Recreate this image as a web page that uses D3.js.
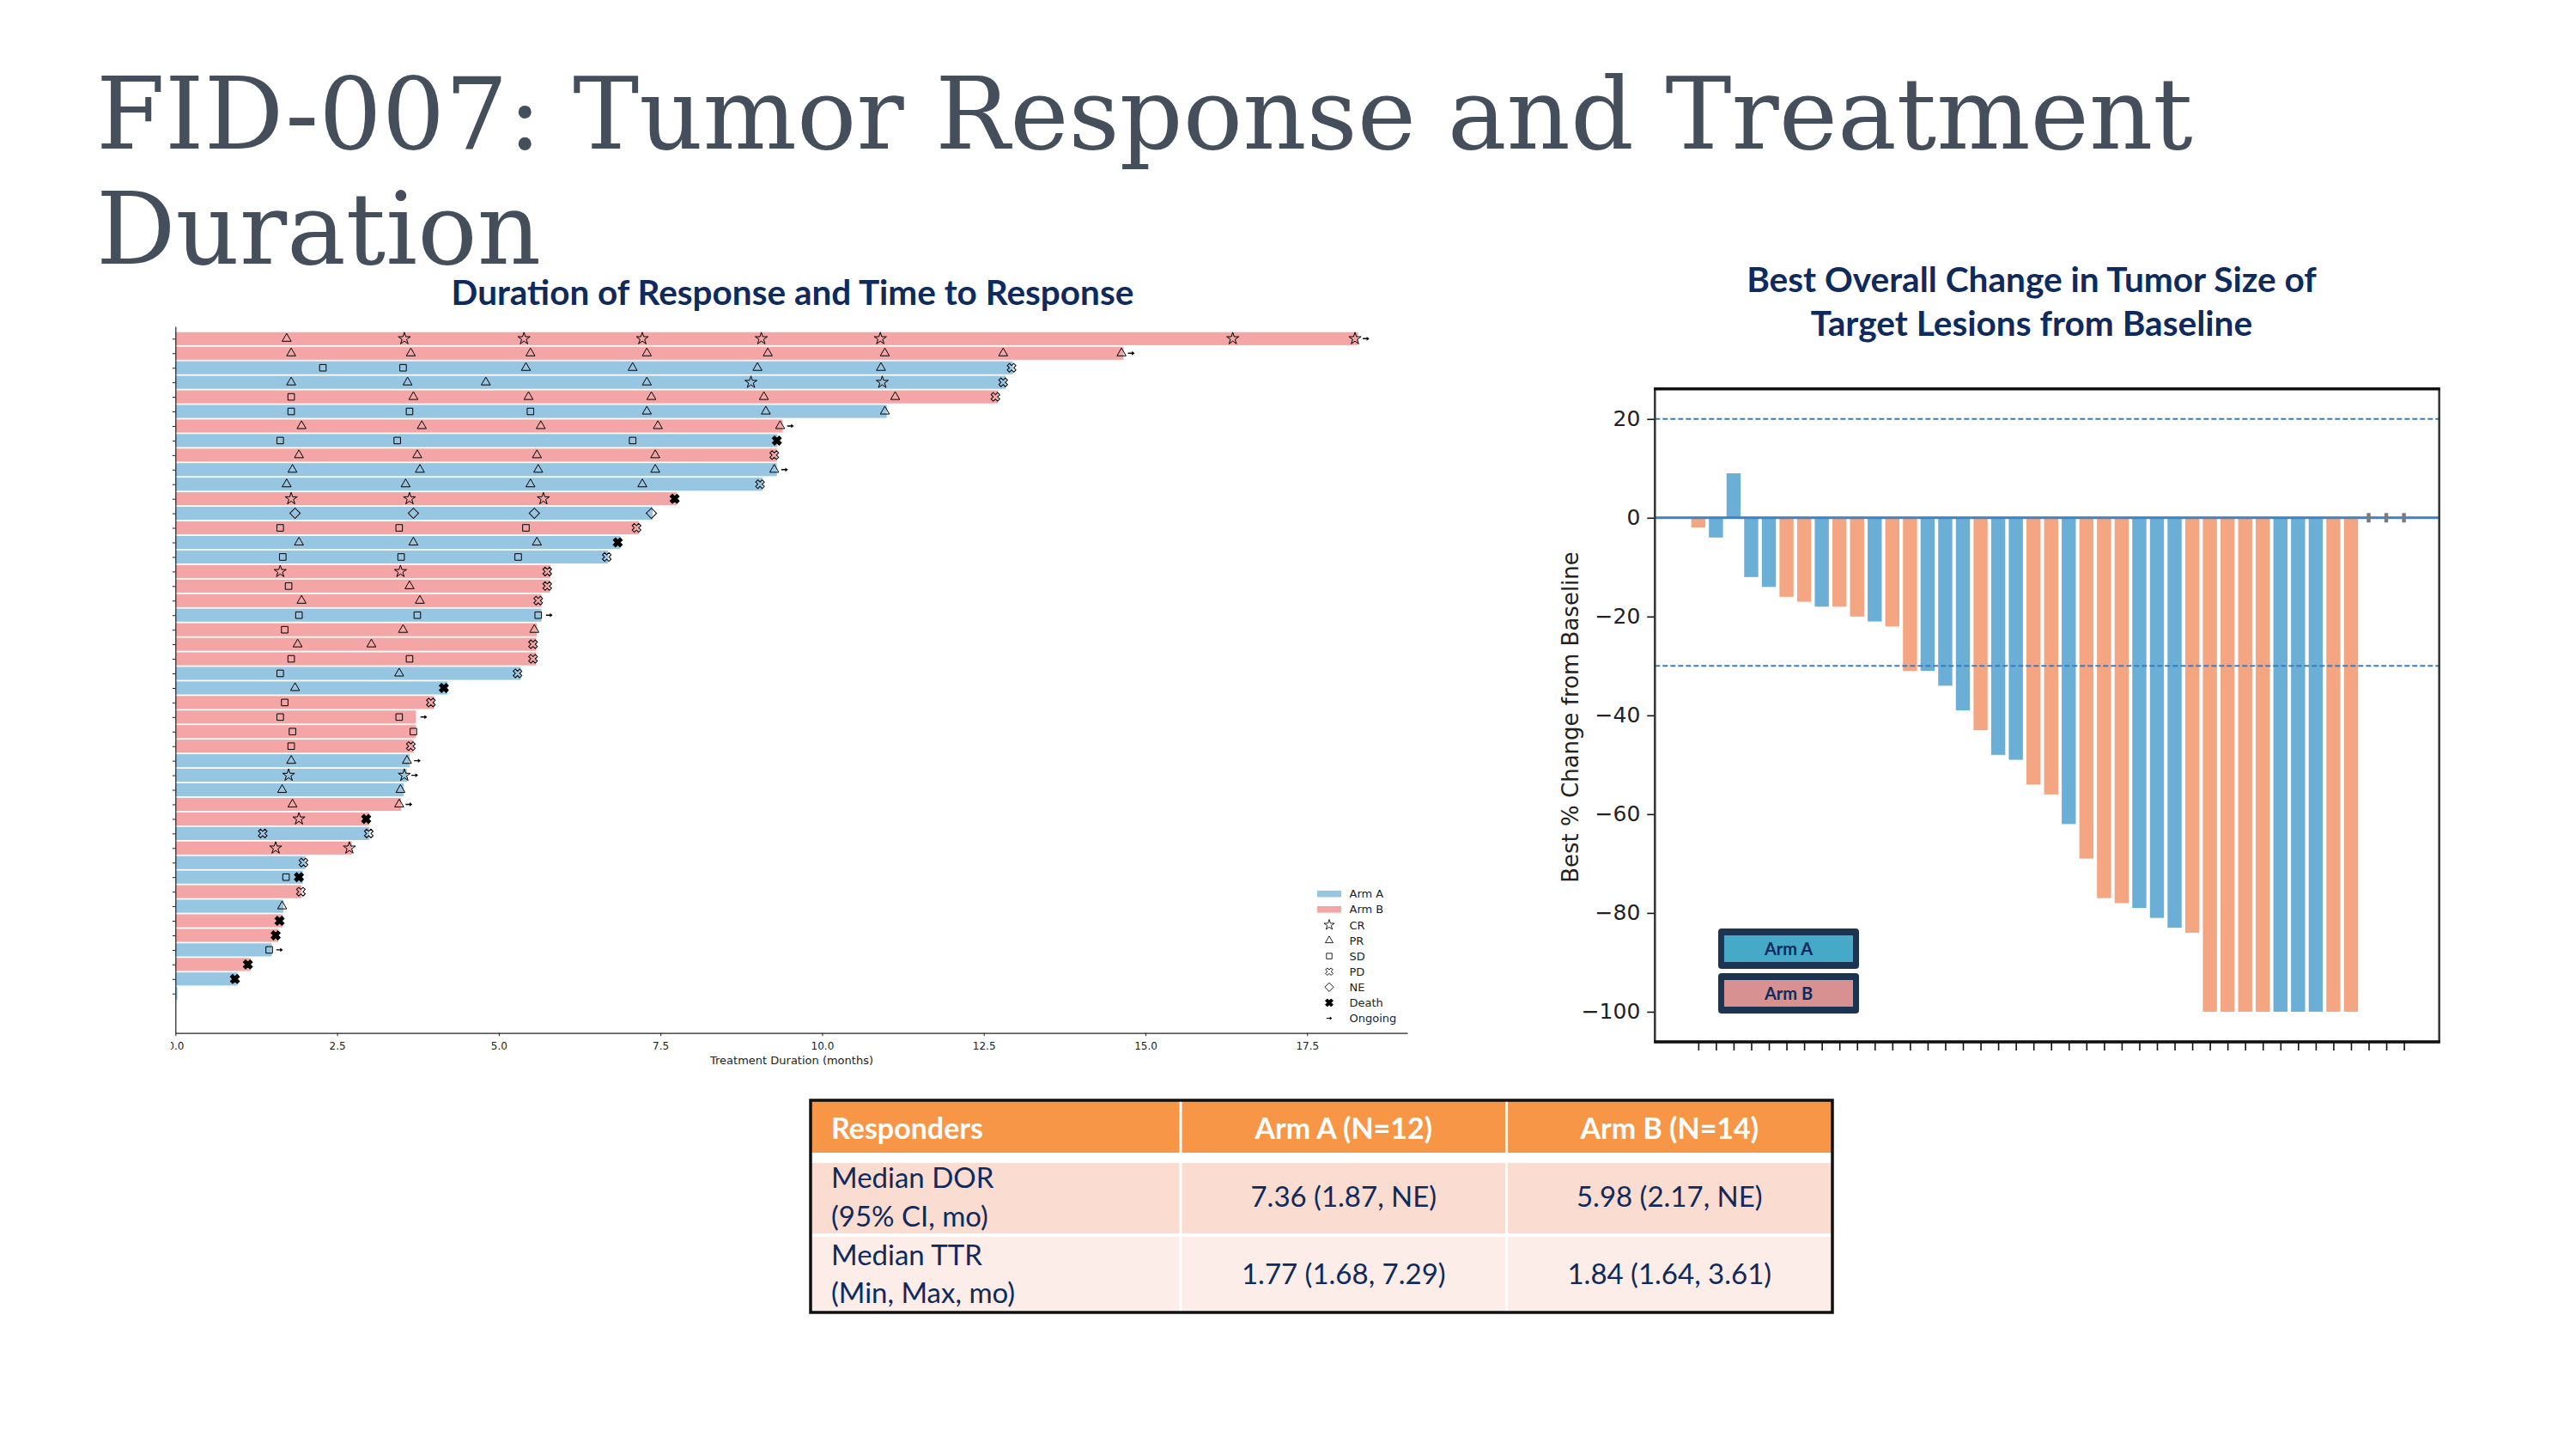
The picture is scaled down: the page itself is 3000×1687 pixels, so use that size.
<!DOCTYPE html>
<html>
<head>
<meta charset="utf-8">
<script src="https://cdn.jsdelivr.net/npm/d3@7"></script>
<style>
  body { margin: 0; background: #fff; }
  svg { display: block; }
</style>
</head>
<body>
<div id="slide"></div>
<script>
// Slide text
//==============================================
var titleLines = ["FID-007: Tumor Response and Treatment", "Duration"];
var swimTitle = "Duration of Response and Time to Response";
var wfTitle = ["Best Overall Change in Tumor Size of", "Target Lesions from Baseline"];

// Swimmer plot data (one entry per patient, top row first)
//==============================================
var swimArms = ["B","B","A","A","B","A","B","A","B","A","A","B","A","B","A","A","B","B","B","A","B","B","B",
                "A","A","B","B","B","B","A","A","A","B","B","A","B","A","A","B","A","B","B","A","B","A","A"];
var swimDurations = [18.29,14.66,12.95,12.84,12.72,11.00,9.39,9.31,9.30,9.30,9.08,7.75,7.38,7.17,6.88,6.69,
                     5.80,5.79,5.66,5.66,5.59,5.58,5.58,5.34,4.21,4.00,3.72,3.72,3.68,3.62,3.58,3.53,3.49,
                     3.00,3.00,2.73,2.01,1.97,1.95,1.67,1.66,1.59,1.49,1.16,0.96,0.03];
var swimOngoing = [1,1,0,0,0,0,1,0,0,1,0,0,0,0,0,0,0,0,0,1,0,0,0,0,0,0,1,0,0,1,1,0,1,0,0,0,0,0,0,0,0,0,1,0,0,0];
var swimEvents = [
  [[1.72,"PR"],[3.54,"CR"],[5.39,"CR"],[7.22,"CR"],[9.06,"CR"],[10.90,"CR"],[16.35,"CR"],[18.24,"CR"]],
  [[1.79,"PR"],[3.64,"PR"],[5.49,"PR"],[7.29,"PR"],[9.16,"PR"],[10.97,"PR"],[12.80,"PR"],[14.63,"PR"]],
  [[2.28,"SD"],[3.52,"SD"],[5.42,"PR"],[7.07,"PR"],[9.00,"PR"],[10.91,"PR"],[12.93,"PD"]],
  [[1.79,"PR"],[3.59,"PR"],[4.80,"PR"],[7.29,"PR"],[8.90,"CR"],[10.93,"CR"],[12.80,"PD"]],
  [[1.79,"SD"],[3.68,"PR"],[5.46,"PR"],[7.36,"PR"],[9.10,"PR"],[11.13,"PR"],[12.68,"PD"]],
  [[1.79,"SD"],[3.62,"SD"],[5.49,"SD"],[7.29,"PR"],[9.13,"PR"],[10.97,"PR"]],
  [[1.95,"PR"],[3.81,"PR"],[5.65,"PR"],[7.46,"PR"],[9.35,"PR"]],
  [[1.62,"SD"],[3.43,"SD"],[7.07,"SD"],[9.30,"Death"]],
  [[1.91,"PR"],[3.74,"PR"],[5.59,"PR"],[7.42,"PR"],[9.26,"PD"]],
  [[1.81,"PR"],[3.78,"PR"],[5.61,"PR"],[7.42,"PR"],[9.26,"PR"]],
  [[1.72,"PR"],[3.56,"PR"],[5.49,"PR"],[7.22,"PR"],[9.04,"PD"]],
  [[1.79,"CR"],[3.62,"CR"],[5.69,"CR"],[7.72,"Death"]],
  [[1.85,"NE"],[3.68,"NE"],[5.55,"NE"],[7.36,"NE"]],
  [[1.62,"SD"],[3.46,"SD"],[5.42,"SD"],[7.13,"PD"]],
  [[1.91,"PR"],[3.68,"PR"],[5.59,"PR"],[6.84,"Death"]],
  [[1.66,"SD"],[3.49,"SD"],[5.30,"SD"],[6.67,"PD"]],
  [[1.62,"CR"],[3.48,"CR"],[5.75,"PD"]],
  [[1.75,"SD"],[3.62,"PR"],[5.75,"PD"]],
  [[1.95,"PR"],[3.78,"PR"],[5.61,"PD"]],
  [[1.91,"SD"],[3.74,"SD"],[5.61,"SD"]],
  [[1.69,"SD"],[3.52,"PR"],[5.55,"PR"]],
  [[1.89,"PR"],[3.03,"PR"],[5.53,"PD"]],
  [[1.79,"SD"],[3.62,"SD"],[5.53,"PD"]],
  [[1.62,"SD"],[3.46,"PR"],[5.29,"PD"]],
  [[1.85,"PR"],[4.15,"Death"]],
  [[1.69,"SD"],[3.95,"PD"]],
  [[1.62,"SD"],[3.46,"SD"]],
  [[1.81,"SD"],[3.68,"SD"]],
  [[1.79,"SD"],[3.64,"PD"]],
  [[1.79,"PR"],[3.58,"PR"]],
  [[1.75,"CR"],[3.54,"CR"]],
  [[1.65,"PR"],[3.48,"PR"]],
  [[1.81,"PR"],[3.46,"PR"]],
  [[1.91,"CR"],[2.95,"Death"]],
  [[1.35,"PD"],[2.99,"PD"]],
  [[1.55,"CR"],[2.69,"CR"]],
  [[1.98,"PD"]],
  [[1.71,"SD"],[1.91,"Death"]],
  [[1.94,"PD"]],
  [[1.65,"PR"]],
  [[1.61,"Death"]],
  [[1.55,"Death"]],
  [[1.45,"SD"]],
  [[1.12,"Death"]],
  [[0.92,"Death"]],
  []
];
var swimTicks = [0, 2.5, 5, 7.5, 10, 12.5, 15, 17.5];
var swimLegend = ["Arm A","Arm B","CR","PR","SD","PD","NE","Death","Ongoing"];

// Waterfall data (one bar per patient, left to right)
//==============================================
var wfArms = ["B","A","A","A","A","B","B","A","B","B","A","B","B","A","A","A","B","A","A","B","B","A","B",
              "B","B","A","A","A","B","B","B","B","B","A","A","A","B","B","NA","NA","NA"];
var wfValues = [-2,-4,9,-12,-14,-16,-17,-18,-18,-20,-21,-22,-31,-31,-34,-39,-43,-48,-49,-54,-56,-62,-69,
                -77,-78,-79,-81,-83,-84,-100,-100,-100,-100,-100,-100,-100,-100,-100,0,0,0];
var wfTicks = [20, 0, -20, -40, -60, -80, -100];
var wfRefLines = [20, -30];

// Responders table
//==============================================
var tableHeader = ["Responders", "Arm A (N=12)", "Arm B (N=14)"];
var tableLabels = [["Median DOR", "(95% CI, mo)"], ["Median TTR", "(Min, Max, mo)"]];
var tableArmA = ["7.36 (1.87, NE)", "1.77 (1.68, 7.29)"];
var tableArmB = ["5.98 (2.17, NE)", "1.84 (1.64, 3.61)"];

var navy = "#0f2a5c";
var swimColor = {A: "#97c6e2", B: "#f4a6a6"};
var wfColor = {A: "#6baed6", B: "#f4a582"};

// scale a text so that it spans a given width
function fitWidth(sel, w) {
  var len = sel.node().getComputedTextLength();
  var fs = parseFloat(sel.attr("font-size"));
  sel.attr("font-size", fs * w / len);
  return fs * w / len;
}

var svg = d3.select("#slide").append("svg")
  .attr("width", 3000)
  .attr("height", 1687);

svg.append("rect").attr("width", 3000).attr("height", 1687).attr("fill", "#fff");

// Slide title
//==============================================
var t1 = svg.append("text")
  .attr("x", 112).attr("y", 173)
  .attr("font-family", "DejaVu Serif")
  .attr("font-size", 118)
  .attr("fill", "#454f5b")
  .text(titleLines[0]);
var titleSize = fitWidth(t1, 2442);
svg.append("text")
  .attr("x", 112).attr("y", 307)
  .attr("font-family", "DejaVu Serif")
  .attr("font-size", titleSize)
  .attr("fill", "#454f5b")
  .text(titleLines[1]);

// Swimmer plot
//==============================================
svg.append("defs").append("clipPath").attr("id", "swimClip")
  .append("rect").attr("x", 199).attr("y", 360).attr("width", 1500).attr("height", 920);

var swim = svg.append("g").attr("clip-path", "url(#swimClip)");

var xSwim = d3.scaleLinear().domain([0, 19.05]).range([204.3, 1639]);
var ySwim = d3.scaleLinear().domain([-0.844, 47.73]).range([380, 1203]);
var barH = 15.2;

var st = svg.append("text")
  .attr("x", 923).attr("y", 355)
  .attr("text-anchor", "middle")
  .attr("font-family", "Lato").attr("font-weight", "bold")
  .attr("font-size", 36)
  .attr("fill", navy)
  .text(swimTitle);
fitWidth(st, 795);

swim.selectAll(".swimBar")
  .data(swimDurations)
  .enter()
  .append("rect")
  .attr("class", "swimBar")
  .attr("x", xSwim(0))
  .attr("y", (d, i) => ySwim(i) - barH / 2)
  .attr("width", d => xSwim(d) - xSwim(0))
  .attr("height", barH)
  .attr("fill", (d, i) => swimColor[swimArms[i]]);

// marker shapes
function markerPath(type) {
  if (type === "CR") return d3.symbol(d3.symbolStar, 62)();
  if (type === "PR") return d3.symbol(d3.symbolTriangle, 48)();
  if (type === "SD") return d3.symbol(d3.symbolSquare, 58)();
  if (type === "NE") return d3.symbol(d3.symbolSquare, 72)();
  if (type === "PD") return d3.symbol(d3.symbolCross, 64)();
  if (type === "Death") return d3.symbol(d3.symbolCross, 70)();
  return "M-3.8,-0.7H0.8V-2.4L4,0L0.8,2.4V0.7H-3.8Z";
}
function markerRotate(type) {
  return (type === "NE" || type === "PD" || type === "Death") ? " rotate(45)" : "";
}
function markerFill(type) {
  return (type === "Death" || type === "Ongoing") ? "#000" : "none";
}
function markerStroke(type) {
  return type === "Ongoing" ? "none" : "#000";
}

var events = [];
swimEvents.forEach(function(list, i) {
  list.forEach(function(e) { events.push({row: i, t: e[0], type: e[1]}); });
  if (swimOngoing[i]) events.push({row: i, t: swimDurations[i] + 0.12, type: "Ongoing"});
});

swim.selectAll(".marker")
  .data(events)
  .enter()
  .append("path")
  .attr("class", "marker")
  .attr("d", d => markerPath(d.type))
  .attr("transform", d => `translate(${xSwim(d.t)},${ySwim(d.row)})` + markerRotate(d.type))
  .attr("fill", d => markerFill(d.type))
  .attr("stroke", d => markerStroke(d.type))
  .attr("stroke-width", 1);

// axes
var swimX = swim.append("g")
  .attr("transform", "translate(0,1202.7)")
  .call(d3.axisBottom(xSwim).tickValues(swimTicks).tickFormat(d3.format(".1f")).tickSize(3.5).tickSizeOuter(0));
var swimY = swim.append("g")
  .attr("transform", "translate(204.3,0)")
  .call(d3.axisLeft(ySwim).tickValues(d3.range(swimDurations.length)).tickFormat("").tickSize(3.5).tickSizeOuter(0));
[swimX, swimY].forEach(function(ax) {
  ax.select(".domain").attr("stroke", "#222").attr("stroke-width", 1.2);
  ax.selectAll(".tick line").attr("stroke", "#222");
  ax.selectAll("text").attr("font-family", "DejaVu Sans").attr("font-size", 12).attr("fill", "#222");
});
swimX.selectAll("text").attr("dy", null).attr("y", 19.3);

swim.append("text")
  .attr("x", 922).attr("y", 1239)
  .attr("text-anchor", "middle")
  .attr("font-family", "DejaVu Sans").attr("font-size", 13)
  .attr("fill", "#222")
  .text("Treatment Duration (months)");

// legend
var swimLeg = swim.selectAll(".swimLeg")
  .data(swimLegend)
  .enter()
  .append("g")
  .attr("class", "swimLeg")
  .attr("transform", (d, i) => `translate(1548,${1040.7 + i * 18.1})`);
swimLeg.filter((d, i) => i < 2)
  .append("rect")
  .attr("x", -14).attr("y", -3.8).attr("width", 28).attr("height", 7.6)
  .attr("fill", (d, i) => i === 0 ? swimColor.A : swimColor.B);
swimLeg.filter((d, i) => i >= 2)
  .append("path")
  .attr("d", d => markerPath(d))
  .attr("transform", d => "scale(0.85)" + markerRotate(d))
  .attr("fill", d => markerFill(d))
  .attr("stroke", d => markerStroke(d))
  .attr("stroke-width", 1);
swimLeg.append("text")
  .attr("x", 23.5).attr("y", 4.6)
  .attr("font-family", "DejaVu Sans").attr("font-size", 13)
  .attr("fill", "#222")
  .text(d => d);

// Waterfall plot
//==============================================
var xWf = d3.scaleLinear().domain([-2.46, 42.0]).range([1927.3, 2840.7]);
var yWf = d3.scaleLinear().domain([-106.1, 26.1]).range([1213, 452.7]);
var barW = 16.4;

var wfSize = 40;
wfTitle.forEach(function(line, i) {
  var wt = svg.append("text")
    .attr("x", 2366).attr("y", 340 + i * 51)
    .attr("text-anchor", "middle")
    .attr("font-family", "Lato").attr("font-weight", "bold")
    .attr("font-size", 36)
    .attr("fill", navy)
    .text(line);
  if (i === 0) wfSize = fitWidth(wt, 664);
  else wt.attr("font-size", wfSize);
});

var wf = svg.append("g");

wf.selectAll(".wfBar")
  .data(wfValues)
  .enter()
  .filter((d, i) => wfArms[i] !== "NA")
  .append("rect")
  .attr("class", "wfBar")
  .attr("x", (d, i) => xWf(i) - barW / 2)
  .attr("y", d => yWf(Math.max(d, 0)))
  .attr("width", barW)
  .attr("height", d => Math.abs(yWf(d) - yWf(0)))
  .attr("fill", (d, i) => wfColor[wfArms[i]]);

// reference lines
wf.selectAll(".refLine")
  .data(wfRefLines)
  .enter()
  .append("line")
  .attr("x1", xWf.range()[0]).attr("x2", xWf.range()[1])
  .attr("y1", d => yWf(d)).attr("y2", d => yWf(d))
  .attr("stroke", "#3a7dbf").attr("stroke-width", 2)
  .attr("stroke-dasharray", "6,3");
wf.append("line")
  .attr("x1", xWf.range()[0]).attr("x2", xWf.range()[1])
  .attr("y1", yWf(0)).attr("y2", yWf(0))
  .attr("stroke", "#3c82c2").attr("stroke-width", 3);

// patients with no change
wf.selectAll(".wfZero")
  .data(wfValues.map((d, i) => i).filter(i => wfArms[i] === "NA"))
  .enter()
  .append("rect")
  .attr("x", i => xWf(i) - 2.2)
  .attr("y", yWf(0) - 5.5)
  .attr("width", 4.4).attr("height", 11)
  .attr("fill", "#7a7a7a");

var wfY = wf.append("g")
  .attr("transform", `translate(${xWf.range()[0]},0)`)
  .call(d3.axisLeft(yWf).tickValues(wfTicks).tickSize(9).tickPadding(8).tickSizeOuter(0));
var wfX = wf.append("g")
  .attr("transform", `translate(0,${yWf.range()[0]})`)
  .call(d3.axisBottom(xWf).tickValues(d3.range(wfValues.length)).tickFormat("").tickSize(10).tickSizeOuter(0));
[wfX, wfY].forEach(function(ax) {
  ax.select(".domain").remove();
  ax.selectAll(".tick line").attr("stroke", "#111").attr("stroke-width", 1.6);
  ax.selectAll("text").attr("font-family", "DejaVu Sans").attr("font-size", 25).attr("fill", "#222");
});

// frame
wf.append("rect")
  .attr("x", xWf.range()[0]).attr("y", yWf.range()[1])
  .attr("width", xWf.range()[1] - xWf.range()[0])
  .attr("height", yWf.range()[0] - yWf.range()[1])
  .attr("fill", "none").attr("stroke", "#333").attr("stroke-width", 2.5);
[yWf.range()[0], yWf.range()[1]].forEach(function(yy) {
  wf.append("line")
    .attr("x1", xWf.range()[0] - 1).attr("x2", xWf.range()[1] + 1)
    .attr("y1", yy).attr("y2", yy)
    .attr("stroke", "#111").attr("stroke-width", 3.5);
});

wf.append("text")
  .attr("transform", "translate(1838,835) rotate(-90)")
  .attr("text-anchor", "middle")
  .attr("font-family", "DejaVu Sans").attr("font-size", 26)
  .attr("fill", "#222")
  .text("Best % Change from Baseline");

// arm boxes
var wfLeg = wf.selectAll(".wfLeg")
  .data(["Arm A", "Arm B"])
  .enter()
  .append("g")
  .attr("class", "wfLeg")
  .attr("transform", (d, i) => `translate(2001,${1081 + i * 52})`);
wfLeg.append("rect")
  .attr("width", 164).attr("height", 47).attr("rx", 4)
  .attr("fill", "#1d3352");
wfLeg.append("rect")
  .attr("x", 7).attr("y", 8).attr("width", 150).attr("height", 31)
  .attr("fill", (d, i) => i === 0 ? "#45a9c7" : "#d79190");
wfLeg.append("text")
  .attr("x", 82).attr("y", 30.5)
  .attr("text-anchor", "middle")
  .attr("font-family", "Lato").attr("font-weight", "bold").attr("font-size", 20)
  .attr("fill", navy)
  .text(d => d);

// Responders table
//==============================================
var colX = [944, 1375, 1754.6, 2134];
var tbl = svg.append("g");

tbl.append("rect")
  .attr("x", colX[0]).attr("y", 1281)
  .attr("width", colX[3] - colX[0]).attr("height", 61)
  .attr("fill", "#f79646");
tbl.append("rect")
  .attr("x", colX[0]).attr("y", 1354)
  .attr("width", colX[3] - colX[0]).attr("height", 82)
  .attr("fill", "#fbdcd0");
tbl.append("rect")
  .attr("x", colX[0]).attr("y", 1440)
  .attr("width", colX[3] - colX[0]).attr("height", 88)
  .attr("fill", "#fdede8");
[colX[1], colX[2]].forEach(function(cx) {
  tbl.append("line")
    .attr("x1", cx).attr("x2", cx).attr("y1", 1281).attr("y2", 1528)
    .attr("stroke", "#fff").attr("stroke-width", 3);
});
tbl.append("rect")
  .attr("x", colX[0]).attr("y", 1281)
  .attr("width", colX[3] - colX[0]).attr("height", 247)
  .attr("fill", "none").attr("stroke", "#111").attr("stroke-width", 3.5);

tbl.selectAll(".hdr")
  .data(tableHeader)
  .enter()
  .append("text")
  .attr("x", (d, i) => i === 0 ? 968 : (colX[i] + colX[i + 1]) / 2)
  .attr("y", 1326)
  .attr("text-anchor", (d, i) => i === 0 ? "start" : "middle")
  .attr("font-family", "Lato").attr("font-weight", "bold").attr("font-size", 34)
  .attr("fill", "#fff")
  .text(d => d);

var rowBase = [1383, 1472.5];
tableLabels.forEach(function(lines, r) {
  lines.forEach(function(line, k) {
    tbl.append("text")
      .attr("x", 968).attr("y", rowBase[r] + k * 44.5)
      .attr("font-family", "Lato").attr("font-size", 33)
      .attr("fill", navy)
      .text(line);
  });
  [tableArmA[r], tableArmB[r]].forEach(function(val, c) {
    tbl.append("text")
      .attr("x", (colX[c + 1] + colX[c + 2]) / 2)
      .attr("y", rowBase[r] + 22)
      .attr("text-anchor", "middle")
      .attr("font-family", "Lato").attr("font-size", 33)
      .attr("fill", navy)
      .text(val);
  });
});
</script>
</body>
</html>
